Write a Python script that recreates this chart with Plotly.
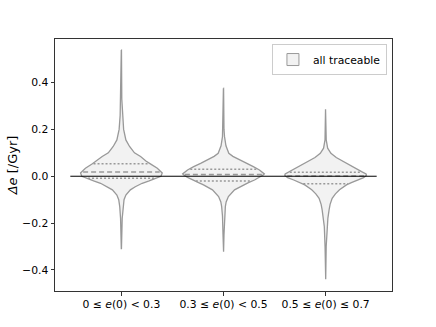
import numpy as np
import plotly.graph_objects as go

categories = ["0 ≤ <i>e</i>(0) < 0.3", "0.3 ≤ <i>e</i>(0) < 0.5", "0.5 ≤ <i>e</i>(0) ≤ 0.7"]

# density profiles (value, relative width)
v1_y = [0.539, 0.33, 0.26, 0.20, 0.155, 0.127, 0.10, 0.084, 0.065, 0.053, 0.034, 0.014, 0.0,
        -0.009, -0.020, -0.030, -0.045, -0.058, -0.080, -0.10, -0.13, -0.18, -0.309]
v1_d = [0.002, 0.01, 0.03, 0.055, 0.11, 0.2, 0.32, 0.47, 0.6, 0.71, 0.88, 1.0, 0.97,
        0.85, 0.68, 0.51, 0.34, 0.22, 0.11, 0.065, 0.04, 0.02, 0.002]

v2_y = [0.376, 0.20, 0.169, 0.13, 0.098, 0.085, 0.070, 0.055, 0.041, 0.027, 0.010, 0.006,
        -0.005, -0.016, -0.027, -0.037, -0.058, -0.087, -0.110, -0.130, -0.17, -0.25, -0.322]
v2_d = [0.002, 0.012, 0.025, 0.06, 0.13, 0.23, 0.38, 0.56, 0.73, 0.88, 1.0, 0.98,
        0.88, 0.76, 0.61, 0.49, 0.27, 0.12, 0.065, 0.045, 0.025, 0.012, 0.002]

v3_y = [0.286, 0.155, 0.12, 0.098, 0.08, 0.062, 0.045, 0.034, 0.020, 0.010, 0.004, -0.006,
        -0.016, -0.027, -0.037, -0.058, -0.075, -0.094, -0.120, -0.144, -0.18, -0.215, -0.30, -0.440]
v3_d = [0.002, 0.015, 0.05, 0.13, 0.26, 0.45, 0.63, 0.73, 0.88, 0.99, 1.0, 0.93,
        0.78, 0.63, 0.51, 0.34, 0.24, 0.16, 0.11, 0.085, 0.055, 0.032, 0.014, 0.002]

# quartiles (q1, median, q3)
quart1 = [-0.009, 0.018, 0.053]
quart2 = [-0.020, 0.007, 0.030]
quart3 = [-0.032, 0.001, 0.017]

profiles = [(v1_y, v1_d, quart1), (v2_y, v2_d, quart2), (v3_y, v3_d, quart3)]

half_width = 0.4
edge = "#999999"
fill = "#f2f2f2"

fig = go.Figure()

for i, (ys, ds, qs) in enumerate(profiles):
    ys = np.array(ys)
    ds = np.array(ds)
    xs = np.concatenate([i - half_width * ds, (i + half_width * ds)[::-1], [i - half_width * ds[0]]])
    yy = np.concatenate([ys, ys[::-1], [ys[0]]])
    fig.add_trace(go.Scatter(
        x=xs, y=yy, mode="lines", fill="toself", fillcolor=fill,
        line=dict(color=edge, width=1.3),
        showlegend=False, hoverinfo="skip",
    ))
    order = np.argsort(ys)
    for k, q in enumerate(qs):
        w = half_width * np.interp(q, ys[order], ds[order]) * 0.96
        fig.add_trace(go.Scatter(
            x=[i - w, i + w], y=[q, q], mode="lines",
            line=dict(color=edge, width=1.5, dash="5px,3px" if k == 1 else "2px,2px"),
            showlegend=False, hoverinfo="skip",
        ))

# legend patch
fig.add_trace(go.Bar(
    x=[None], y=[None], name="all traceable",
    marker=dict(color=fill, line=dict(color=edge, width=1)),
))

fig.add_trace(go.Scatter(
    x=[-0.5, 2.5], y=[0, 0], mode="lines",
    line=dict(color="black", width=1), showlegend=False, hoverinfo="skip",
))

fig.update_layout(
    width=436, height=327,
    margin=dict(l=55, r=44, t=39, b=36),
    plot_bgcolor="#ffffff", paper_bgcolor="#ffffff",
    font=dict(family="DejaVu Sans", size=10.8, color="black"),
    showlegend=True,
    legend=dict(
        x=0.985, y=0.98, xanchor="right", yanchor="top",
        bgcolor="rgba(255,255,255,0.8)", bordercolor="#cccccc", borderwidth=1,
        font=dict(size=10.8), itemwidth=30,
    ),
)
fig.update_xaxes(
    range=[-0.65, 2.65], tickvals=[0, 1, 2], ticktext=categories, automargin=False,
    showgrid=False, zeroline=False, showline=True, mirror=True,
    linecolor="#333333", linewidth=1, ticks="outside", ticklen=3.5, tickcolor="#333333",
)
fig.update_yaxes(
    range=[-0.49, 0.586], tickvals=[-0.4, -0.2, 0.0, 0.2, 0.4], tickformat=".1f", automargin=False,
    title=dict(text="<i>Δe</i> [/Gyr]", standoff=1),
    showgrid=False, zeroline=False, showline=True, mirror=True,
    linecolor="#333333", linewidth=1, ticks="outside", ticklen=3.5, tickcolor="#333333",
)

fig.write_html("out.html", config={"displayModeBar": False},
               post_script="document.body.style.margin='0';")
